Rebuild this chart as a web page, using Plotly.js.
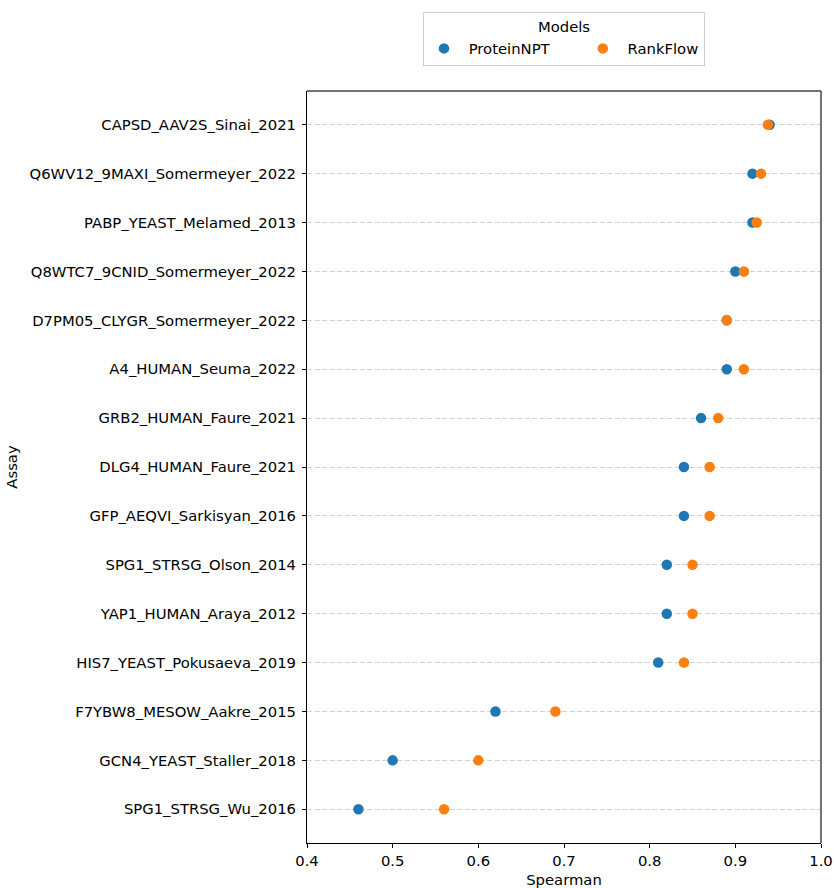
<!DOCTYPE html>
<html>
<head>
<meta charset="utf-8">
<script src="https://cdn.plot.ly/plotly-3.0.1.min.js"></script>
<style>html,body{margin:0;padding:0;background:#fff;}</style>
</head>
<body>
<div id="chart" style="width:834px;height:888px;"></div>
<script>
// Assays listed from bottom to top
const assays = [
  "SPG1_STRSG_Wu_2016",
  "GCN4_YEAST_Staller_2018",
  "F7YBW8_MESOW_Aakre_2015",
  "HIS7_YEAST_Pokusaeva_2019",
  "YAP1_HUMAN_Araya_2012",
  "SPG1_STRSG_Olson_2014",
  "GFP_AEQVI_Sarkisyan_2016",
  "DLG4_HUMAN_Faure_2021",
  "GRB2_HUMAN_Faure_2021",
  "A4_HUMAN_Seuma_2022",
  "D7PM05_CLYGR_Somermeyer_2022",
  "Q8WTC7_9CNID_Somermeyer_2022",
  "PABP_YEAST_Melamed_2013",
  "Q6WV12_9MAXI_Somermeyer_2022",
  "CAPSD_AAV2S_Sinai_2021"
];
const proteinNPT = [0.46, 0.50, 0.62, 0.81, 0.82, 0.82, 0.84, 0.84, 0.86, 0.89, 0.89, 0.90, 0.92, 0.92, 0.94];
const rankFlow   = [0.56, 0.60, 0.69, 0.84, 0.85, 0.85, 0.87, 0.87, 0.88, 0.91, 0.89, 0.91, 0.925, 0.93, 0.938];
const xTicks = [0.4, 0.5, 0.6, 0.7, 0.8, 0.9, 1.0];
const xTickText = ["0.4", "0.5", "0.6", "0.7", "0.8", "0.9", "1.0"];
const seriesNames = ["ProteinNPT", "RankFlow"];

const FS = 14.8;
const font = {family: "DejaVu Sans, sans-serif", size: FS, color: "#000"};
const NB = "\u00a0";

const traces = [
  {x: proteinNPT, y: assays, type: "scatter", mode: "markers",
   name: NB + seriesNames[0] + NB.repeat(6),
   marker: {color: "#1f77b4", size: 10.5}},
  {x: rankFlow, y: assays, type: "scatter", mode: "markers",
   name: NB + seriesNames[1],
   marker: {color: "#ff7f0e", size: 10.5}}
];

const layout = {
  width: 834, height: 888,
  margin: {l: 307, r: 13, t: 89, b: 45},
  paper_bgcolor: "#fff", plot_bgcolor: "#fff",
  font: font,
  showlegend: true,
  legend: {
    orientation: "h", x: 0.5, xanchor: "center", y: 1.105, yanchor: "top",
    title: {text: "Models", side: "top center", font: {size: FS}},
    bordercolor: "#d0d0d0", borderwidth: 1, bgcolor: "#fff",
    font: {size: FS}, itemwidth: 30, traceorder: "normal", tracegroupgap: 0
  },
  xaxis: {
    range: [0.4, 1.0], tickvals: xTicks, ticktext: xTickText,
    showgrid: false, zeroline: false,
    showline: true, linecolor: "#000", linewidth: 1,
    ticks: "outside", ticklen: 4, tickcolor: "#000",
    title: {text: "Spearman", font: {size: FS}, standoff: 7}
  },
  yaxis: {
    type: "category", categoryorder: "array", categoryarray: assays,
    range: [-0.69, 14.69],
    showgrid: true, gridcolor: "#d3d3d3", griddash: "5px,2.5px", gridwidth: 1,
    zeroline: false, showline: true, linecolor: "#000", linewidth: 1,
    ticks: "outside", ticklen: 4, tickcolor: "#000", ticklabelstandoff: 3,
    title: {text: "Assay", font: {size: FS}, standoff: 8}
  },
  shapes: [
    {type: "line", xref: "paper", yref: "paper", x0: 0, x1: 1, y0: 1, y1: 1,
     line: {color: "#444", width: 1.5}},
    {type: "line", xref: "paper", yref: "paper", x0: 1, x1: 1, y0: 0, y1: 1,
     line: {color: "#444", width: 1.5}}
  ]
};

Plotly.newPlot("chart", traces, layout, {displayModeBar: false, staticPlot: true});
</script>
</body>
</html>
